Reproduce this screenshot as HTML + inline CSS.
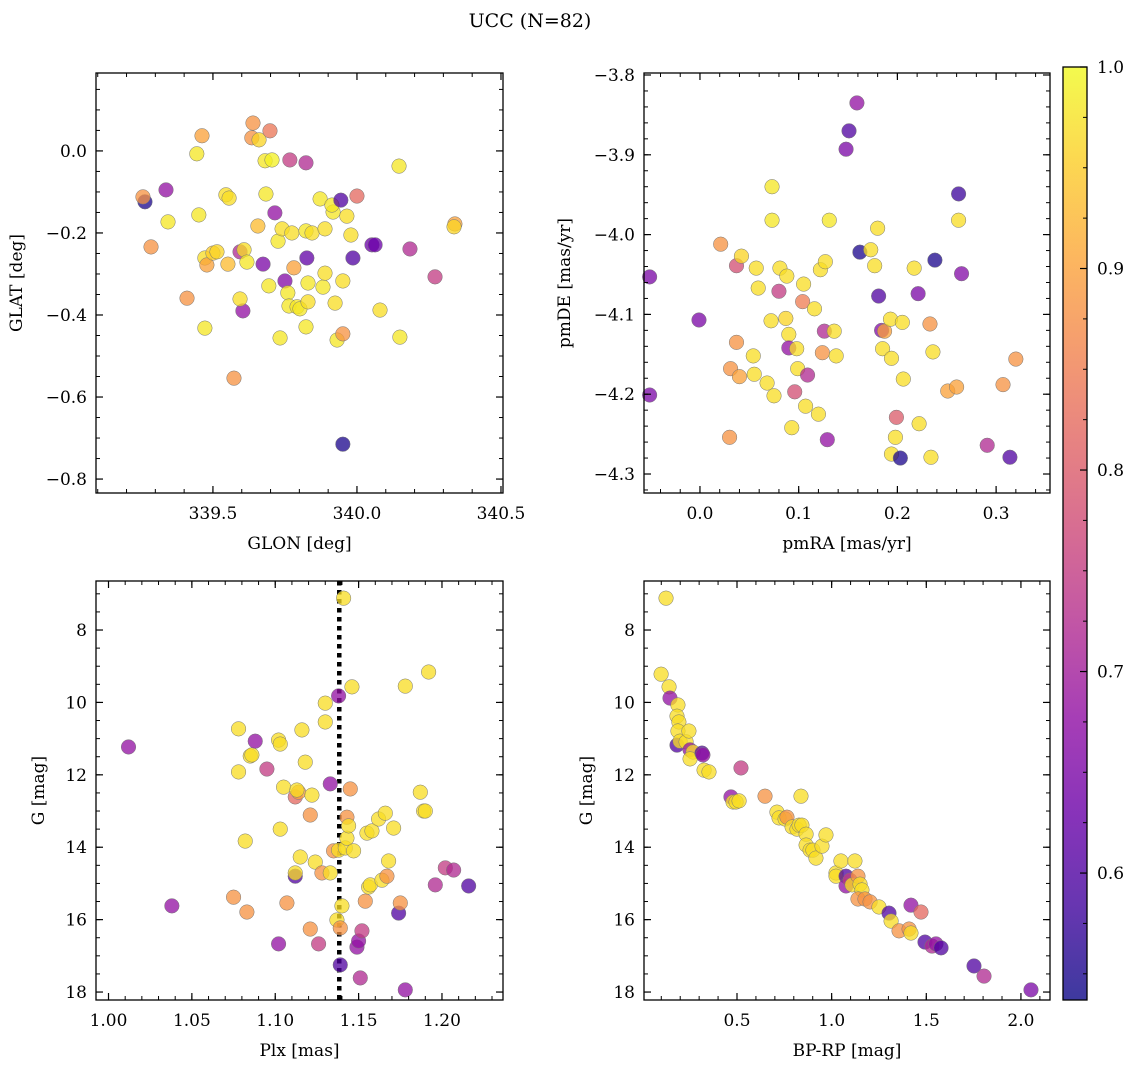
<!DOCTYPE html>
<html><head><meta charset="utf-8">
<style>
body{margin:0;background:#fff;}
svg{display:block;font-family:"DejaVu Serif","Liberation Serif",serif;}
</style></head>
<body>
<svg id="chart" width="1136" height="1067" viewBox="0 0 1136 1067" xmlns="http://www.w3.org/2000/svg">
<rect width="1136" height="1067" fill="#fff"/>
<text x="530" y="27" font-size="19" text-anchor="middle">UCC (N=82)</text>
</svg>
<script>
// ---- data: panel 1 (GLON vs GLAT)
const glon = [339.264,339.257,339.285,339.337,339.344,339.410,339.444,339.462,339.451,339.472,339.479,339.472,339.5,339.514,339.545,339.556,339.552,339.573,339.594,339.604,339.594,339.608,339.618,339.635,339.639,339.660,339.656,339.674,339.681,339.684,339.698,339.705,339.694,339.715,339.726,339.733,339.740,339.750,339.760,339.767,339.764,339.774,339.781,339.792,339.802,339.823,339.823,339.823,339.826,339.830,339.830,339.844,339.872,339.882,339.889,339.889,339.917,339.913,339.924,339.931,339.944,339.951,339.951,339.951,339.965,339.979,339.986,340.0,340.052,340.063,340.080,340.146,340.149,340.184,340.271,340.340,340.337];
const glat = [-0.124,-0.112,-0.234,-0.095,-0.173,-0.359,-0.007,0.037,-0.156,-0.261,-0.278,-0.432,-0.249,-0.246,-0.107,-0.115,-0.276,-0.554,-0.246,-0.390,-0.361,-0.241,-0.271,0.032,0.068,0.027,-0.183,-0.276,-0.024,-0.105,0.049,-0.022,-0.329,-0.151,-0.220,-0.456,-0.190,-0.317,-0.346,-0.022,-0.378,-0.200,-0.285,-0.380,-0.385,-0.029,-0.195,-0.429,-0.261,-0.322,-0.368,-0.200,-0.117,-0.332,-0.298,-0.190,-0.149,-0.132,-0.371,-0.461,-0.120,-0.446,-0.715,-0.317,-0.159,-0.205,-0.261,-0.110,-0.229,-0.229,-0.388,-0.037,-0.454,-0.239,-0.307,-0.178,-0.185];
const prob1 = [0.55,0.88,0.88,0.68,0.98,0.88,0.98,0.90,0.98,0.97,0.90,0.98,0.95,0.96,0.97,0.97,0.93,0.88,0.72,0.68,0.97,0.97,0.98,0.88,0.88,0.96,0.93,0.65,0.98,0.98,0.84,0.99,0.98,0.68,0.98,0.98,0.97,0.66,0.98,0.75,0.98,0.97,0.90,0.98,0.98,0.72,0.98,0.98,0.62,0.98,0.97,0.97,0.98,0.98,0.97,0.97,0.98,0.98,0.97,0.98,0.60,0.88,0.55,0.97,0.97,0.97,0.60,0.82,0.63,0.63,0.97,0.98,0.98,0.72,0.75,0.90,0.96];
// ---- data: panel 2 (pmRA vs pmDE)
const pmra = [-0.051,-0.051,-0.001,0.021,0.030,0.031,0.037,0.037,0.042,0.040,0.059,0.057,0.054,0.055,0.068,0.075,0.072,0.073,0.073,0.081,0.080,0.088,0.087,0.090,0.090,0.098,0.093,0.096,0.099,0.104,0.105,0.107,0.109,0.116,0.120,0.122,0.127,0.126,0.124,0.129,0.131,0.136,0.138,0.151,0.148,0.159,0.162,0.173,0.177,0.181,0.180,0.185,0.184,0.187,0.193,0.194,0.194,0.198,0.203,0.205,0.199,0.206,0.217,0.221,0.222,0.234,0.233,0.236,0.238,0.251,0.260,0.262,0.262,0.265,0.291,0.307,0.314,0.320];
const pmde = [-4.053,-4.201,-4.107,-4.012,-4.254,-4.168,-4.135,-4.039,-4.027,-4.178,-4.067,-4.042,-4.152,-4.175,-4.186,-4.202,-4.108,-3.982,-3.940,-4.042,-4.071,-4.052,-4.105,-4.125,-4.142,-4.143,-4.242,-4.197,-4.168,-4.084,-4.062,-4.215,-4.176,-4.093,-4.225,-4.044,-4.034,-4.121,-4.148,-4.257,-3.982,-4.121,-4.152,-3.870,-3.893,-3.835,-4.022,-4.019,-4.039,-4.077,-3.992,-4.143,-4.120,-4.121,-4.106,-4.155,-4.275,-4.254,-4.280,-4.110,-4.229,-4.181,-4.042,-4.074,-4.237,-4.279,-4.112,-4.147,-4.032,-4.196,-4.191,-3.982,-3.949,-4.049,-4.264,-4.188,-4.279,-4.156];
const prob2 = [0.65,0.65,0.65,0.88,0.88,0.88,0.88,0.78,0.96,0.90,0.97,0.97,0.97,0.97,0.97,0.97,0.97,0.98,0.98,0.97,0.75,0.97,0.96,0.97,0.68,0.97,0.97,0.78,0.97,0.85,0.97,0.97,0.72,0.97,0.97,0.97,0.97,0.72,0.88,0.68,0.98,0.97,0.97,0.60,0.65,0.68,0.55,0.97,0.97,0.60,0.97,0.97,0.66,0.90,0.97,0.97,0.97,0.97,0.55,0.97,0.80,0.97,0.97,0.65,0.97,0.97,0.88,0.97,0.55,0.90,0.90,0.97,0.58,0.66,0.72,0.88,0.60,0.88];
// ---- data: panel 3 (Plx vs G)
const plx = [1.012,1.038,1.075,1.083,1.078,1.078,1.082,1.085,1.086,1.088,1.095,1.102,1.102,1.103,1.103,1.105,1.107,1.112,1.114,1.113,1.112,1.112,1.115,1.116,1.118,1.122,1.121,1.121,1.124,1.126,1.128,1.130,1.130,1.133,1.133,1.135,1.137,1.138,1.138,1.139,1.139,1.140,1.141,1.142,1.143,1.143,1.144,1.145,1.146,1.147,1.149,1.150,1.151,1.152,1.154,1.155,1.156,1.157,1.158,1.162,1.164,1.166,1.167,1.168,1.171,1.174,1.175,1.178,1.178,1.187,1.189,1.190,1.192,1.196,1.202,1.207,1.216];
const gmag3 = [11.23,15.62,15.38,15.79,10.73,11.92,13.83,11.48,11.45,11.07,11.84,16.67,11.04,11.15,13.50,12.34,15.54,12.61,12.48,12.42,14.80,14.71,14.27,10.76,11.65,12.56,13.11,16.26,14.41,16.67,14.71,10.02,10.54,12.25,14.71,14.10,16.01,14.08,9.82,17.25,16.23,15.62,7.12,14.02,13.75,13.17,13.41,12.39,9.57,14.10,16.76,16.59,17.61,16.31,15.49,13.61,15.10,15.04,13.55,13.22,14.91,13.06,14.80,14.38,13.47,15.82,15.54,17.94,9.55,12.48,13.0,13.0,9.16,15.04,14.57,14.63,15.07];
const prob3 = [0.68,0.68,0.88,0.88,0.97,0.97,0.97,0.97,0.97,0.68,0.75,0.68,0.97,0.97,0.97,0.97,0.88,0.82,0.90,0.97,0.60,0.97,0.97,0.97,0.97,0.97,0.88,0.88,0.97,0.75,0.88,0.97,0.97,0.68,0.97,0.88,0.97,0.97,0.68,0.60,0.88,0.97,0.97,0.97,0.97,0.88,0.97,0.88,0.97,0.97,0.68,0.68,0.72,0.75,0.88,0.97,0.97,0.97,0.97,0.97,0.97,0.97,0.88,0.97,0.97,0.60,0.88,0.68,0.97,0.97,0.97,0.97,0.97,0.72,0.75,0.72,0.60];
const plxMedian = 1.1384;
// ---- data: panel 4 (BP-RP vs G)
const bprp = [0.125,0.099,0.141,0.146,0.188,0.183,0.193,0.188,0.183,0.199,0.231,0.246,0.252,0.268,0.252,0.315,0.320,0.326,0.352,0.468,0.479,0.495,0.511,0.521,0.648,0.711,0.722,0.754,0.764,0.791,0.817,0.828,0.843,0.865,0.865,0.886,0.901,0.917,0.949,0.970,0.838,1.023,1.023,1.049,1.076,1.076,1.097,1.108,1.123,1.139,1.150,1.160,1.139,1.176,1.203,1.250,1.303,1.314,1.356,1.409,1.419,1.419,1.472,1.493,1.530,1.551,1.578,1.752,1.805,2.053];
const gmag4 = [7.12,9.22,9.57,9.88,10.07,10.38,10.54,10.79,11.18,11.07,11.09,10.79,11.31,11.37,11.56,11.40,11.45,11.87,11.92,12.61,12.75,12.75,12.72,11.81,12.59,13.03,13.19,13.22,13.17,13.44,13.50,13.39,13.39,13.64,13.94,14.08,14.08,14.30,13.97,13.66,12.59,14.71,14.80,14.38,14.80,15.07,14.91,15.04,14.38,14.80,15.02,15.18,15.43,15.43,15.51,15.65,15.82,16.04,16.31,16.26,16.37,15.60,15.79,16.62,16.73,16.67,16.78,17.28,17.56,17.94];
const prob4 = [0.97,0.97,0.97,0.68,0.97,0.97,0.97,0.97,0.60,0.97,0.97,0.97,0.68,0.97,0.97,0.60,0.68,0.97,0.97,0.68,0.97,0.97,0.97,0.75,0.88,0.97,0.97,0.97,0.88,0.97,0.97,0.97,0.97,0.97,0.97,0.97,0.97,0.97,0.97,0.97,0.97,0.97,0.97,0.97,0.60,0.68,0.75,0.97,0.97,0.88,0.97,0.97,0.88,0.88,0.88,0.97,0.60,0.97,0.88,0.88,0.97,0.68,0.82,0.60,0.72,0.68,0.60,0.60,0.72,0.65];
// ---- tick labels
const ticks1x = [339.5,340.0,340.5], ticks1y = [0.0,-0.2,-0.4,-0.6,-0.8];
const ticks2x = [0.0,0.1,0.2,0.3], ticks2y = [-3.8,-3.9,-4.0,-4.1,-4.2,-4.3];
const ticks3x = [1.00,1.05,1.10,1.15,1.20], ticks3y = [8,10,12,14,16,18];
const ticks4x = [0.5,1.0,1.5,2.0], ticks4y = [8,10,12,14,16,18];
const cbarTicks = [0.6,0.7,0.8,0.9,1.0];
const vmin = 0.537, vmax = 1.0;

const NS = "http://www.w3.org/2000/svg";
const svg = document.getElementById('chart');
function mk(tag, attrs, parent){
  const e = document.createElementNS(NS, tag);
  for (const k in attrs) e.setAttribute(k, attrs[k]);
  (parent||svg).appendChild(e);
  return e;
}
const plasma = [[13,8,135],[65,4,157],[106,0,168],[143,13,164],[177,42,144],[204,71,120],[225,100,98],[242,132,75],[252,166,54],[252,206,37],[240,249,33]];
function cmap(t){
  t = Math.max(0, Math.min(1, t));
  const f = t*10, i = Math.min(9, Math.floor(f)), r = f - i;
  const a = plasma[i], b = plasma[i+1];
  return `rgb(${Math.round(a[0]+(b[0]-a[0])*r)},${Math.round(a[1]+(b[1]-a[1])*r)},${Math.round(a[2]+(b[2]-a[2])*r)})`;
}
function colorOf(p){ return cmap((p - vmin)/(vmax - vmin)); }

function panel(cfg){
  const g = mk('g', {});
  
  
  const L=cfg.l, R=cfg.r, T=cfg.t, B=cfg.b;
  const sx = v => L + (v - cfg.x0)/(cfg.x1 - cfg.x0)*(R - L);
  const sy = v => T + (v - cfg.yTop)/(cfg.yBot - cfg.yTop)*(B - T);
  if (cfg.vline !== undefined){
    const vl = mk('line', {x1:sx(cfg.vline), x2:sx(cfg.vline), y1:T, y2:B, stroke:'#000','stroke-width':4.5,'stroke-dasharray':'4.5 4.5'}, g);
    
    
  }
  for (let i=0;i<cfg.xs.length;i++){
    const c = mk('circle', {cx:sx(cfg.xs[i]), cy:sy(cfg.ys[i]), r:7.3, fill:colorOf(cfg.cs[i]), 'fill-opacity':0.76, stroke:'#777', 'stroke-width':0.5}, g);
    
    
  }
  const fr = mk('rect', {x:L, y:T, width:R-L, height:B-T, fill:'none', stroke:'#000', 'stroke-width':1.3}, g);
  
  
  const mx0 = Math.ceil(Math.min(cfg.x0,cfg.x1)/cfg.xm - 1e-6);
  for (let k=mx0; k*cfg.xm <= Math.max(cfg.x0,cfg.x1)+1e-9; k++){
    const x = sx(k*cfg.xm);
    mk('line',{x1:x,x2:x,y1:B,y2:B-4,stroke:'#000','stroke-width':1},g);
    mk('line',{x1:x,x2:x,y1:T,y2:T+4,stroke:'#000','stroke-width':1},g);
  }
  const lo = Math.min(cfg.yTop,cfg.yBot), hi = Math.max(cfg.yTop,cfg.yBot);
  for (let k=Math.ceil(lo/cfg.ym - 1e-6); k*cfg.ym <= hi+1e-9; k++){
    const y = sy(k*cfg.ym);
    mk('line',{x1:L,x2:L+4,y1:y,y2:y,stroke:'#000','stroke-width':1},g);
    mk('line',{x1:R,x2:R-4,y1:y,y2:y,stroke:'#000','stroke-width':1},g);
  }
  cfg.tx.forEach(v=>{
    const x = sx(v);
    mk('line',{x1:x,x2:x,y1:B,y2:B-7,stroke:'#000','stroke-width':1.2},g);
    mk('line',{x1:x,x2:x,y1:T,y2:T+7,stroke:'#000','stroke-width':1.2},g);
    const t = mk('text',{x:x,y:B+26,'font-size':17,'text-anchor':'middle'},g);
    t.textContent = v.toFixed(cfg.xd);
    
    
  });
  cfg.ty.forEach(v=>{
    const y = sy(v);
    mk('line',{x1:L,x2:L+7,y1:y,y2:y,stroke:'#000','stroke-width':1.2},g);
    mk('line',{x1:R,x2:R-7,y1:y,y2:y,stroke:'#000','stroke-width':1.2},g);
    const t = mk('text',{x:L-9,y:y+6,'font-size':17,'text-anchor':'end'},g);
    t.textContent = (v<0?'\u2212':'') + Math.abs(v).toFixed(cfg.yd);
    
    
  });
  const xl = mk('text',{x:(L+R)/2,y:B+56,'font-size':17,'text-anchor':'middle'},g);
  xl.textContent = cfg.xlab;
  
  
  const yx = cfg.ylx, yy = (T+B)/2;
  const yl = mk('text',{x:yx,y:yy,'font-size':17,'text-anchor':'middle',transform:`rotate(-90 ${yx} ${yy})`},g);
  yl.textContent = cfg.ylab;
  
  
}

panel({name:'panel-glon-glat', l:96,r:503,t:73,b:493, x0:339.094,x1:340.507, yTop:0.190,yBot:-0.834,
  xs:glon, ys:glat, cs:prob1, tx:ticks1x, ty:ticks1y, xd:1, yd:1, xm:0.1, ym:0.05,
  xlab:'GLON [deg]', ylab:'GLAT [deg]', ylx:22});
panel({name:'panel-pm', l:644,r:1050,t:73,b:493, x0:-0.0567,x1:0.3546, yTop:-3.7975,yBot:-4.3238,
  xs:pmra, ys:pmde, cs:prob2, tx:ticks2x, ty:ticks2y, xd:1, yd:1, xm:0.02, ym:0.02,
  xlab:'pmRA [mas/yr]', ylab:'pmDE [mas/yr]', ylx:570});
panel({name:'panel-plx-g', l:96,r:503,t:581,b:1000, x0:0.9925,x1:1.2366, yTop:6.646,yBot:18.22,
  xs:plx, ys:gmag3, cs:prob3, tx:ticks3x, ty:ticks3y, xd:2, yd:0, xm:0.01, ym:0.5,
  xlab:'Plx [mas]', ylab:'G [mag]', ylx:44, vline:plxMedian});
panel({name:'panel-cmd', l:644,r:1050,t:581,b:1000, x0:0.0087,x1:2.1535, yTop:6.646,yBot:18.22,
  xs:bprp, ys:gmag4, cs:prob4, tx:ticks4x, ty:ticks4y, xd:1, yd:0, xm:0.1, ym:0.5,
  xlab:'BP-RP [mag]', ylab:'G [mag]', ylx:592});

(function(){
  const L=1063, R=1087, T=67, B=1000;
  const g = mk('g', {});
  
  
  const defs = mk('defs', {}, g);
  const grad = mk('linearGradient', {id:'cbgrad', x1:0, y1:1, x2:0, y2:0}, defs);
  for (let i=0;i<=20;i++){
    mk('stop', {offset:(i/20), 'stop-color':cmap(i/20), 'stop-opacity':0.8}, grad);
  }
  mk('rect',{x:L,y:T,width:R-L,height:B-T,fill:'url(#cbgrad)',stroke:'none'},g);
  mk('rect',{x:L,y:T,width:R-L,height:B-T,fill:'none',stroke:'#000','stroke-width':1.3},g);
  const sy = v => B - (v - vmin)/(vmax - vmin)*(B - T);
  for (let k=Math.ceil(vmin/0.025); k*0.025<=vmax+1e-9; k++){
    const y = sy(k*0.025);
    mk('line',{x1:R,x2:R-4,y1:y,y2:y,stroke:'#000','stroke-width':1},g);
  }
  cbarTicks.forEach(v=>{
    const y = sy(v);
    mk('line',{x1:R,x2:R-7,y1:y,y2:y,stroke:'#000','stroke-width':1.2},g);
    const t = mk('text',{x:R+10,y:y+6,'font-size':17},g);
    t.textContent = v.toFixed(1);
    
    
  });
})();
</script>
</body></html>
